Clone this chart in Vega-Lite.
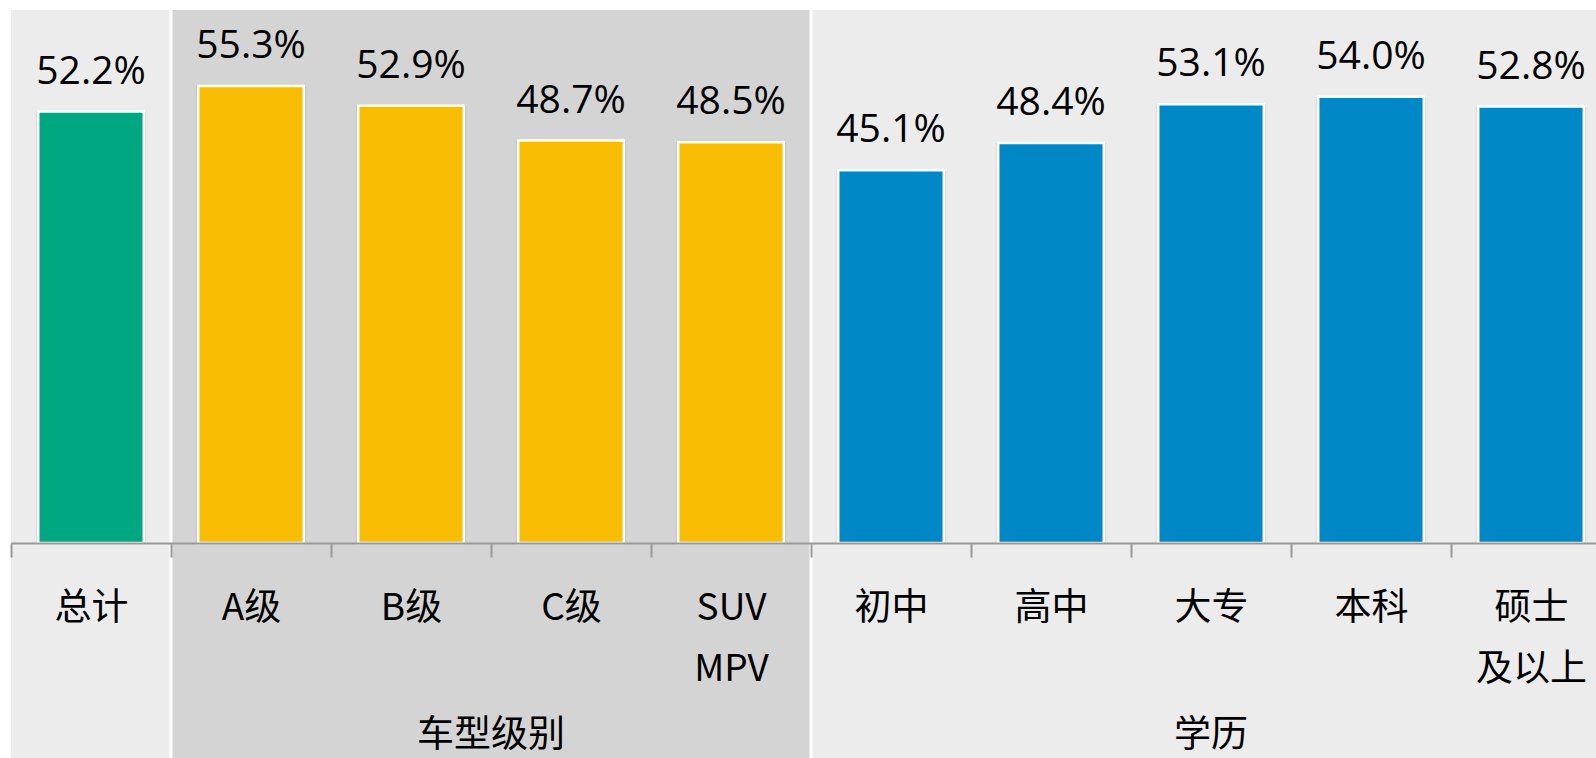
{
  "$schema": "https://vega.github.io/schema/vega-lite/v6.json",
  "width": 1596,
  "height": 543,
  "autosize": {"type": "none"},
  "padding": {"left": 0, "top": 0, "right": 0, "bottom": 215},
  "background": "white",
  "config": {"view": {"stroke": null}},
  "data": {
    "values": [
      {"cat": "总计", "value": 0.522, "section": "总计"},
      {"cat": "A级", "value": 0.553, "section": "车型级别"},
      {"cat": "B级", "value": 0.529, "section": "车型级别"},
      {"cat": "C级", "value": 0.487, "section": "车型级别"},
      {"cat": "SUV|MPV", "value": 0.485, "section": "车型级别"},
      {"cat": "初中", "value": 0.451, "section": "学历"},
      {"cat": "高中", "value": 0.484, "section": "学历"},
      {"cat": "大专", "value": 0.531, "section": "学历"},
      {"cat": "本科", "value": 0.540, "section": "学历"},
      {"cat": "硕士|及以上", "value": 0.528, "section": "学历"}
    ]
  },
  "layer": [
    {
      "mark": {"type": "rect"},
      "encoding": {
        "x": {
          "field": "cat", "type": "nominal", "sort": null,
          "scale": {"range": [11, 1611], "paddingInner": 0, "paddingOuter": 0},
          "axis": {
            "title": null,
            "labelAngle": 0,
            "labelExpr": "split(datum.label, '|')",
            "labelFont": "Noto Sans CJK SC",
            "labelFontSize": 37,
            "labelColor": "#000000",
            "labelPadding": 33,
            "labelLineHeight": 61,
            "labelBaseline": "top",
            "domainColor": "#999999",
            "domainWidth": 2,
            "tickColor": "#999999",
            "tickWidth": 2,
            "tickSize": 14,
            "tickBand": "extent"
          }
        },
        "y": {"datum": 0.6449, "type": "quantitative", "scale": {"domain": [0, 0.657], "nice": false, "zero": false}, "axis": null},
        "y2": {"datum": -0.2601},
        "color": {
          "field": "section", "type": "nominal",
          "scale": {"domain": ["总计", "车型级别", "学历"], "range": ["#ECECEC", "#D4D4D4", "#ECECEC"]},
          "legend": null
        }
      }
    },
    {
      "transform": [{"filter": "datum.cat == 'A级' || datum.cat == '初中'"}],
      "mark": {"type": "rule", "color": "#FFFFFF", "strokeWidth": 3},
      "encoding": {
        "x": {"field": "cat", "type": "nominal", "sort": null, "bandPosition": 0},
        "y": {"datum": 0.6449, "type": "quantitative"},
        "y2": {"datum": -0.2601}
      }
    },
    {
      "mark": {"type": "bar", "width": {"band": 0.69}, "fill": "#000000", "opacity": 0.07},
      "encoding": {
        "x": {"field": "cat", "type": "nominal", "sort": null},
        "y": {"field": "value", "type": "quantitative"},
        "y2": {"datum": 0}
      }
    },
    {
      "mark": {"type": "bar", "width": {"band": 0.66}, "stroke": "#FFFFFF", "strokeWidth": 2.5},
      "encoding": {
        "x": {"field": "cat", "type": "nominal", "sort": null},
        "y": {"field": "value", "type": "quantitative"},
        "y2": {"datum": 0},
        "fill": {
          "field": "section", "type": "nominal",
          "scale": {"domain": ["总计", "车型级别", "学历"], "range": ["#00A882", "#F8BD00", "#0088C6"]},
          "legend": null
        }
      }
    },
    {
      "mark": {"type": "text", "font": "Open Sans", "fontSize": 39, "color": "#000000", "baseline": "alphabetic", "dy": -28},
      "encoding": {
        "x": {"field": "cat", "type": "nominal", "sort": null},
        "y": {"field": "value", "type": "quantitative"},
        "text": {"field": "value", "type": "quantitative", "format": ".1%"}
      }
    },
    {
      "data": {"values": [{"cat": "C级", "group": "车型级别"}]},
      "mark": {"type": "text", "font": "Noto Sans CJK SC", "fontSize": 37, "color": "#000000", "baseline": "middle"},
      "encoding": {
        "x": {"field": "cat", "type": "nominal", "sort": null, "bandPosition": 0},
        "y": {"datum": -0.2335, "type": "quantitative"},
        "text": {"field": "group"}
      }
    },
    {
      "data": {"values": [{"cat": "大专", "group": "学历"}]},
      "mark": {"type": "text", "font": "Noto Sans CJK SC", "fontSize": 37, "color": "#000000", "baseline": "middle"},
      "encoding": {
        "x": {"field": "cat", "type": "nominal", "sort": null},
        "y": {"datum": -0.2335, "type": "quantitative"},
        "text": {"field": "group"}
      }
    }
  ],
  "resolve": {"scale": {"color": "independent"}}
}
